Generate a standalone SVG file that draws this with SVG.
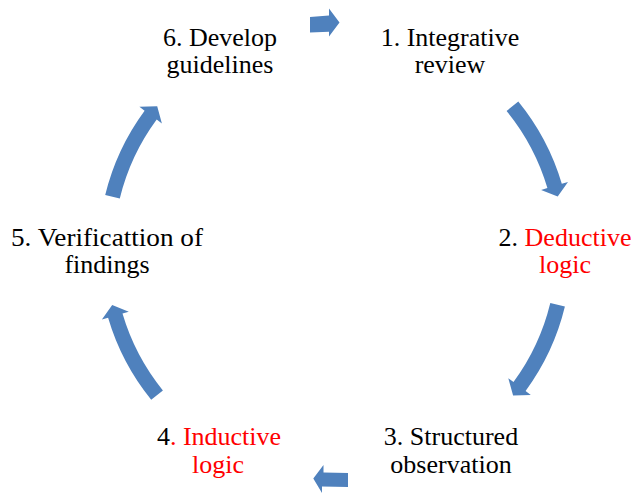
<svg xmlns="http://www.w3.org/2000/svg" width="634" height="493" viewBox="0 0 634 493">
<style>
.lbl{font-family:"Liberation Serif","Times New Roman",serif;font-size:26px;fill:#000;text-anchor:middle}
.red{fill:#FF0000}
.arr{fill:#4F81BD;stroke:none}
</style>
<rect width="634" height="493" fill="#FFFFFF"/>
<g id="connectors">
<path class="arr" d="M310,17 L329,15.5 L329,8.5 L339.5,22.5 L329,36.5 L329,31.7 L310,32.5 Z"/>
<path class="arr" d="M518.3,101.5 A236.5,236.5 0 0 1 561.8,183.8 L568.0,182.0 L557.7,196.5 L541.1,189.9 L547.4,188.1 A221.5,221.5 0 0 0 506.6,111.0 Z"/>
<path class="arr" d="M564.9,306.6 A236.5,236.5 0 0 1 525.6,391.0 L530.8,394.9 L513.1,395.5 L508.3,378.3 L513.5,382.1 A221.5,221.5 0 0 0 550.3,303.1 Z"/>
<path class="arr" d="M348,473 L323.5,472.5 L323.5,465 L313.3,478.5 L322,493 L322,486.5 L348,487 Z"/>
<path class="arr" d="M151.2,399.8 A236.5,236.5 0 0 1 108.1,317.8 L101.9,319.6 L112.2,305.0 L128.8,311.7 L122.5,313.5 A221.5,221.5 0 0 0 162.9,390.4 Z"/>
<path class="arr" d="M105.2,195.0 A236.5,236.5 0 0 1 144.6,110.7 L139.4,106.8 L157.2,106.2 L161.9,123.4 L156.7,119.6 A221.5,221.5 0 0 0 119.8,198.5 Z"/>
</g>
<g id="node1">
<text class="lbl" x="450" y="45.5">1. Integrative</text>
<text class="lbl" x="450" y="73">review</text>
</g>
<g id="node2">
<text class="lbl" x="565" y="245.5">2. <tspan class="red">Deductive</tspan></text>
<text class="lbl red" x="565" y="273">logic</text>
</g>
<g id="node3">
<text class="lbl" x="451" y="445">3. Structured</text>
<text class="lbl" x="451" y="472.5">observation</text>
</g>
<g id="node4">
<text class="lbl" x="219" y="445">4<tspan class="red">. Inductive</tspan></text>
<text class="lbl red" x="218" y="472.5">logic</text>
</g>
<g id="node5">
<text class="lbl" x="107" y="245.5" textLength="192" lengthAdjust="spacingAndGlyphs">5. Verificattion of</text>
<text class="lbl" x="107" y="273">findings</text>
</g>
<g id="node6">
<text class="lbl" x="220" y="45.5">6. Develop</text>
<text class="lbl" x="220" y="73">guidelines</text>
</g>
</svg>
